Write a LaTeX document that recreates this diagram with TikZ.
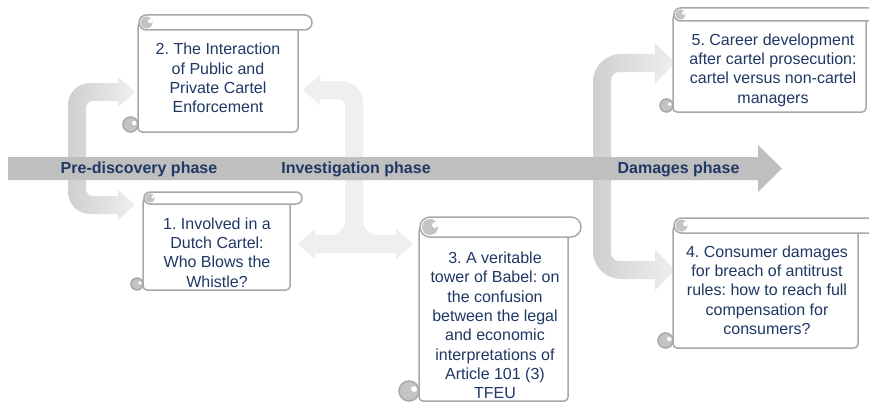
\documentclass[tikz,border=0pt]{standalone}
\usepackage{fontspec}
\setmainfont{Liberation Sans}
\frenchspacing
\definecolor{navy}{HTML}{1F3864}
\definecolor{cardgray}{HTML}{A8A8A8}
\definecolor{curlgray}{HTML}{C4C4C4}
\definecolor{bandgray}{HTML}{BFBFBF}
\definecolor{flowdark}{HTML}{CFCFCF}
\definecolor{flowlight}{HTML}{EFEFEF}

% Scroll-shaped card: #1 body left, #2 roll top, #3 body right,
% #4 roll right, #5 body bottom, #6 roll height
\newcommand\scrollcard[6]{%
  \pgfmathsetmacro\scH{#6/2}%
  \pgfmathsetmacro\scRound{#6/2-0.05}%
  \pgfmathsetmacro\scTop{0.8*#6/2}%
  \pgfmathsetmacro\scDot{0.3*#6/2}%
  \pgfmathsetmacro\scOff{0.25*#6}%
  \pgfmathsetmacro\scLift{0.1*#6}%
  \draw[cardline, fill=white, rounded corners=4pt] (#1,#2+\scH) rectangle (#3,#5);
  \draw[cardline, fill=white, rounded corners=\scRound pt] (#1+1,#2) rectangle (#4,#2+#6);
  \fill[curlgray] (#1+1+\scH,#2+\scH) circle[radius=\scTop pt];
  \fill[white] (#1+1+\scH+\scOff,#2+\scH-\scLift) circle[radius=\scDot pt];
  \draw[cardline, fill=curlgray] (#1-\scH,#5-\scH) circle[radius=\scH pt];
  \fill[white] (#1-\scH+\scOff,#5-\scH-\scLift) circle[radius=\scDot pt];
}

\tikzset{
  cardline/.style={draw=cardgray, line width=1.5pt},
  cardtext/.style={text=navy, font=\fontsize{16}{19.3}\selectfont, align=center, inner sep=0pt},
  phasetext/.style={text=navy, font=\bfseries\fontsize{16}{19}\selectfont, inner sep=0pt, anchor=base},
  flowarrow/.style={left color=flowdark, right color=flowlight},
}

\begin{document}
\begin{tikzpicture}[x=1pt,y=-1pt]
\useasboundingbox (0,0) rectangle (869,404);
\fill[white] (0,0) rectangle (869,404);
\clip (0,0) rectangle (869,404);

% curved flow arrows (behind the time line)
\shade[flowarrow]
  (135,92) -- (118,77) -- (118,83) -- (90,83)
  .. controls (77.9,83) and (68,92.9) .. (68,105)
  -- (68,192)
  .. controls (68,204.1) and (77.9,214) .. (90,214)
  -- (118,214) -- (118,220) -- (135,205) -- (118,190) -- (118,196) -- (93,196)
  .. controls (89.1,196) and (86,192.9) .. (86,189)
  -- (86,108)
  .. controls (86,104.1) and (89.1,101) .. (93,101)
  -- (118,101) -- (118,107) -- cycle;

\shade[left color=flowlight, middle color=flowdark, right color=flowlight]
  (303,90) -- (320,75) -- (320,81) -- (341,81)
  .. controls (353.1,81) and (363,90.9) .. (363,103)
  -- (363,221)
  .. controls (363,228.7) and (369.3,235) .. (377,235)
  -- (396,235) -- (396,229) -- (413,244) -- (396,259) -- (396,253)
  -- (315,253) -- (315,259) -- (298,244) -- (315,229) -- (315,235) -- (331,235)
  .. controls (338.7,235) and (345,228.7) .. (345,221)
  -- (345,106)
  .. controls (345,102.1) and (341.9,99) .. (338,99)
  -- (320,99) -- (320,105) -- cycle;

\shade[flowarrow]
  (675,63) -- (655,43) -- (655,54) -- (621,54)
  .. controls (605.5,54) and (593,66.5) .. (593,82)
  -- (593,251)
  .. controls (593,266.5) and (605.5,279) .. (621,279)
  -- (655,279) -- (655,290) -- (675,270) -- (655,250) -- (655,261) -- (619,261)
  .. controls (614.6,261) and (611,257.4) .. (611,253)
  -- (611,80)
  .. controls (611,75.6) and (614.6,72) .. (619,72)
  -- (655,72) -- (655,83) -- cycle;

% time line
\fill[bandgray] (8,157) -- (758,157) -- (758,145) -- (782,168.5)
  -- (758,192) -- (758,180) -- (8,180) -- cycle;
\node[phasetext] (pre) at (139,173.3) {Pre-discovery phase};
\node[phasetext] (inv) at (356,173.3) {Investigation phase};
\node[phasetext] (dam) at (678.5,173.3) {Damages phase};

% scroll cards
\scrollcard{138}{15}{298}{312}{132}{15}
\node[cardtext] (card2) at (218,78) {2. The Interaction\\of Public and\\Private Cartel\\Enforcement};

\scrollcard{143}{192}{290}{302}{290}{12}
\node[cardtext] (card1) at (217,252.5) {1. Involved in a\\Dutch Cartel:\\Who Blows the\\Whistle?};

\scrollcard{419}{217}{568}{581}{401}{20}
\node[cardtext] (card3) at (495,325.5) {3. A veritable\\tower of Babel: on\\the confusion\\between the legal\\and economic\\interpretations of\\Article 101 (3)\\TFEU};

\scrollcard{673}{8}{866}{880}{112}{13}
\node[cardtext] (card5) at (773,70) {5. Career development\\after cartel prosecution:\\cartel versus non-cartel\\managers};

\scrollcard{673}{218}{858}{880}{348}{15}
\node[cardtext] (card4) at (767,290) {4. Consumer damages\\for breach of antitrust\\rules: how to reach full\\compensation for\\consumers?};
\end{tikzpicture}
\end{document}
